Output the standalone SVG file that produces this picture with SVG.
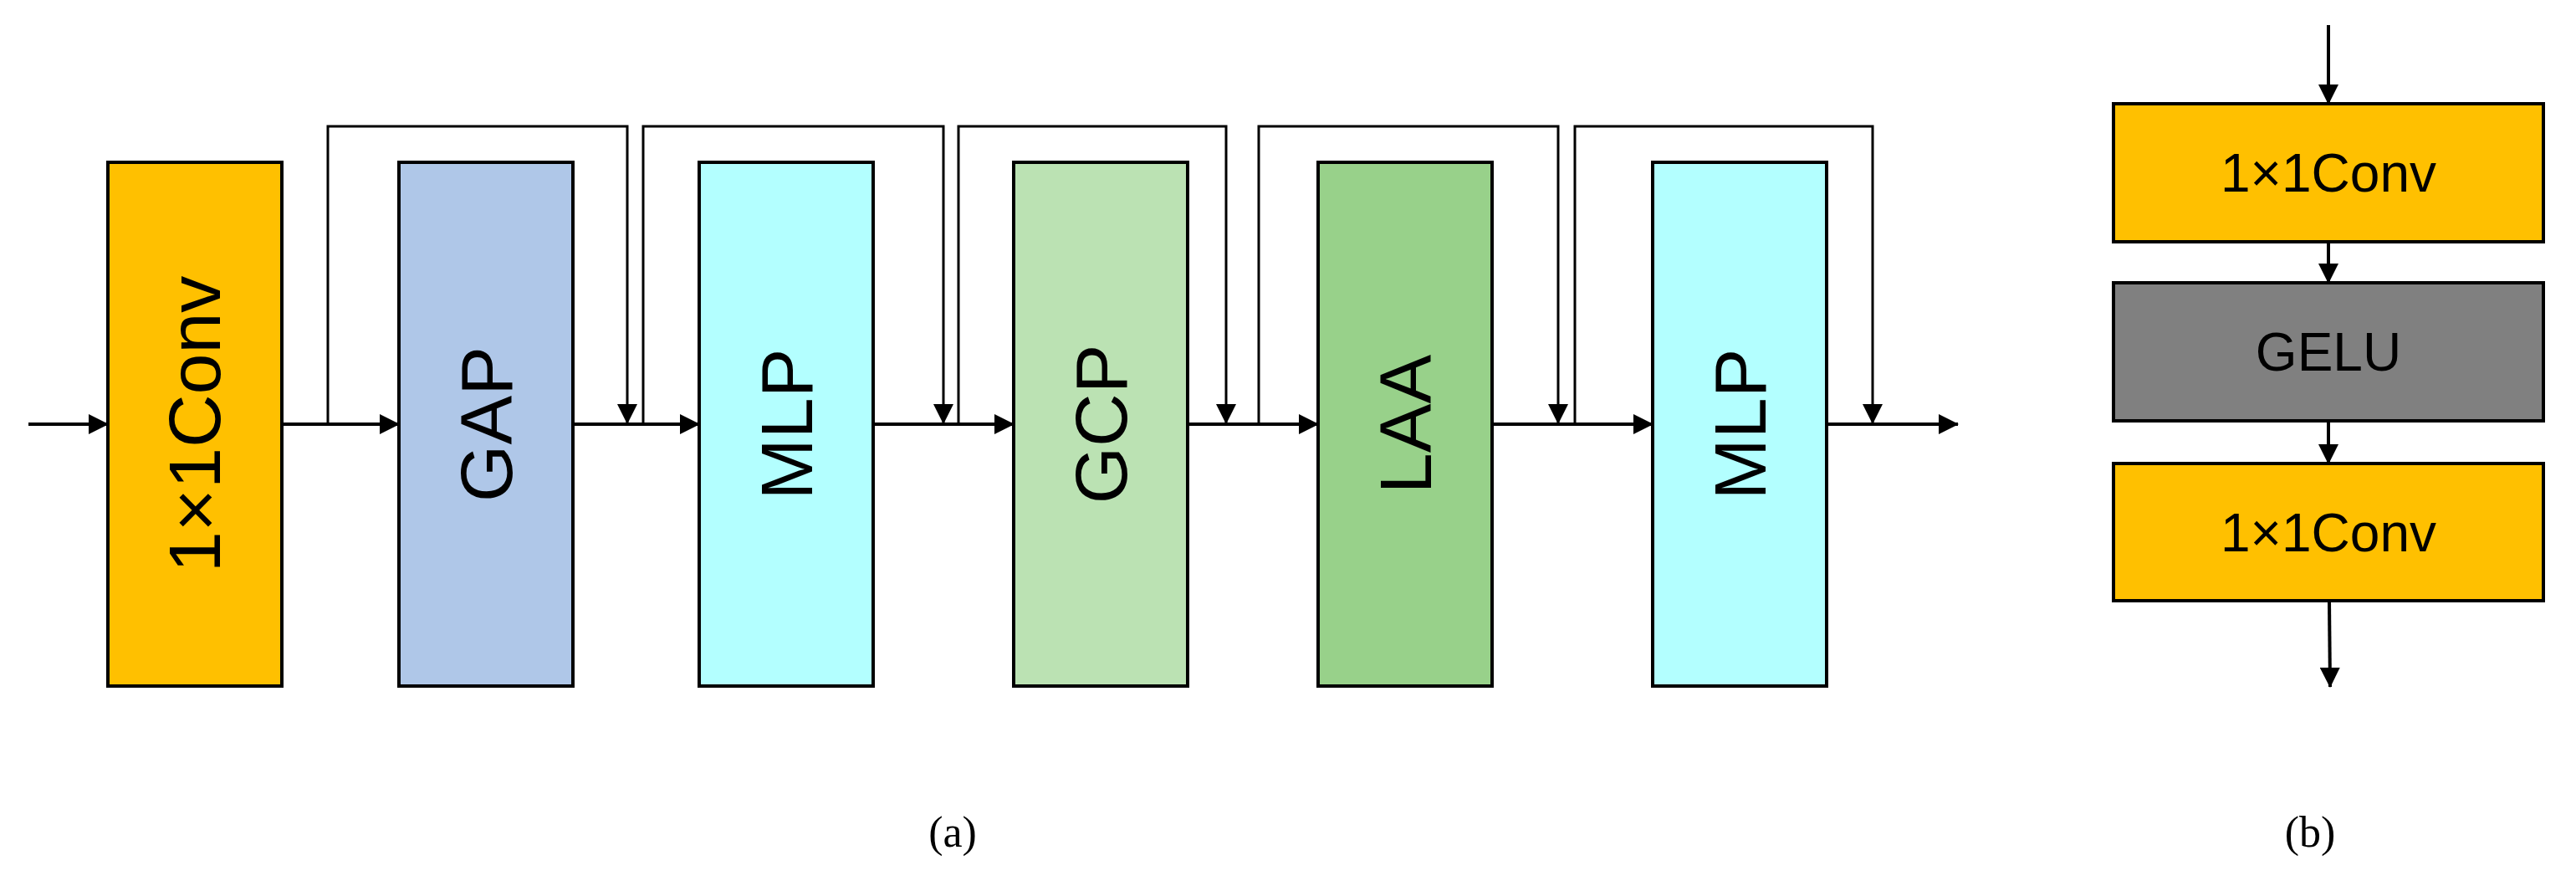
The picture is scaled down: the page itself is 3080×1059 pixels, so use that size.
<svg xmlns="http://www.w3.org/2000/svg" width="3080" height="1059" viewBox="0 0 3080 1059">
<style>
.box{stroke:#000;stroke-width:4}
.t{font-family:"Liberation Sans",Arial,sans-serif;fill:#000}
.lbl{font-family:"Liberation Serif","Times New Roman",serif;font-size:52px;fill:#000}
.m{fill:none;stroke:#000;stroke-width:4}
.s{fill:none;stroke:#000;stroke-width:3}
</style>
<defs>
<marker id="ah" markerUnits="userSpaceOnUse" markerWidth="24" markerHeight="24" refX="23" refY="12" orient="auto">
<path d="M0,0 L24,12 L0,24 z" fill="#000"/>
</marker>
</defs>
<rect width="3080" height="1059" fill="#fff"/>
<g id="conv1"><rect class="box" x="129" y="194" width="208" height="626" fill="#FFC000"/><text class="t" font-size="88" text-anchor="middle" transform="translate(263,507) rotate(-90)">1×1Conv</text></g>
<g id="gap"><rect class="box" x="477" y="194" width="208" height="626" fill="#AFC7E8"/><text class="t" font-size="88" text-anchor="middle" transform="translate(612,507) rotate(-90)">GAP</text></g>
<g id="mlp1"><rect class="box" x="836" y="194" width="208" height="626" fill="#B3FFFF"/><text class="t" font-size="88" text-anchor="middle" transform="translate(971,507) rotate(-90)">MLP</text></g>
<g id="gcp"><rect class="box" x="1212" y="194" width="208" height="626" fill="#BBE2B3"/><text class="t" font-size="88" text-anchor="middle" transform="translate(1347,507) rotate(-90)">GCP</text></g>
<g id="laa"><rect class="box" x="1576" y="194" width="208" height="626" fill="#98D18A"/><text class="t" font-size="88" text-anchor="middle" transform="translate(1711,507) rotate(-90)">LAA</text></g>
<g id="mlp2"><rect class="box" x="1976" y="194" width="208" height="626" fill="#B3FFFF"/><text class="t" font-size="88" text-anchor="middle" transform="translate(2111,507) rotate(-90)">MLP</text></g>
<g id="b1"><rect class="box" x="2527" y="124" width="514" height="165" fill="#FFC000"/><text class="t" font-size="64" text-anchor="middle" x="2784" y="229">1×1Conv</text></g>
<g id="b2"><rect class="box" x="2527" y="338" width="514" height="165" fill="#808080"/><text class="t" font-size="64" text-anchor="middle" x="2784" y="443">GELU</text></g>
<g id="b3"><rect class="box" x="2527" y="554" width="514" height="164" fill="#FFC000"/><text class="t" font-size="64" text-anchor="middle" x="2784" y="659">1×1Conv</text></g>
<g id="connectors">
<line class="m" x1="34" y1="507" x2="129" y2="507" marker-end="url(#ah)"/>
<line class="m" x1="337" y1="507" x2="477" y2="507" marker-end="url(#ah)"/>
<line class="m" x1="685" y1="507" x2="836" y2="507" marker-end="url(#ah)"/>
<line class="m" x1="1044" y1="507" x2="1212" y2="507" marker-end="url(#ah)"/>
<line class="m" x1="1420" y1="507" x2="1576" y2="507" marker-end="url(#ah)"/>
<line class="m" x1="1784" y1="507" x2="1976" y2="507" marker-end="url(#ah)"/>
<line class="m" x1="2184" y1="507" x2="2341" y2="507" marker-end="url(#ah)"/>
<polyline class="s" points="392,507 392,151 750,151 750,506" marker-end="url(#ah)"/>
<polyline class="s" points="769,507 769,151 1128,151 1128,506" marker-end="url(#ah)"/>
<polyline class="s" points="1146,507 1146,151 1466,151 1466,506" marker-end="url(#ah)"/>
<polyline class="s" points="1505,507 1505,151 1863,151 1863,506" marker-end="url(#ah)"/>
<polyline class="s" points="1883,507 1883,151 2239,151 2239,506" marker-end="url(#ah)"/>
<line class="m" x1="2784" y1="30" x2="2784" y2="124" marker-end="url(#ah)"/>
<line class="m" x1="2784" y1="289" x2="2784" y2="338" marker-end="url(#ah)"/>
<line class="m" x1="2784" y1="503" x2="2784" y2="554" marker-end="url(#ah)"/>
<line class="m" x1="2785" y1="718" x2="2786" y2="821" marker-end="url(#ah)"/>
</g>
<text class="lbl" x="1139" y="1012" text-anchor="middle">(a)</text>
<text class="lbl" x="2762" y="1012" text-anchor="middle">(b)</text>
</svg>
